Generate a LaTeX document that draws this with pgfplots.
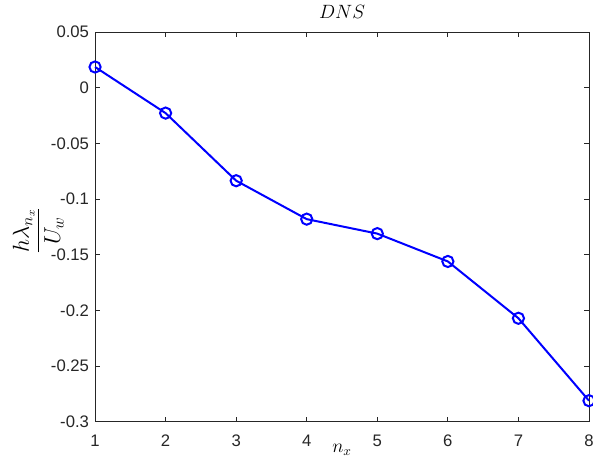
\documentclass[border=0pt]{standalone}
\usepackage{pgfplots}
\pgfplotsset{compat=1.18}
\usepackage{fontspec}
\setmainfont{Liberation Sans}
\begin{document}
\begin{tikzpicture}
\begin{axis}[
  scale only axis,
  width=370pt, height=292pt,
  xmin=1, xmax=8, ymin=-0.3, ymax=0.05,
  xtick={1,2,3,4,5,6,7,8},
  ytick={-0.3,-0.25,-0.2,-0.15,-0.1,-0.05,0,0.05},
  yticklabels={-0.3,-0.25,-0.2,-0.15,-0.1,-0.05,0,0.05},
  tick align=inside,
  tick pos=both,
  major tick length=3.8pt,
  axis line style={black!85, line width=0.6pt},
  tick style={black!85, line width=0.6pt},
  ticklabel style={font=\fontsize{12.5}{14}\selectfont, text=black!85},
  xticklabel style={yshift=-6pt},
  yticklabel style={xshift=-1pt},
  /pgf/number format/assume math mode=true,
  xlabel={$n_x$},
  xlabel style={font=\fontsize{14}{16}\selectfont, at={(axis description cs:0.5,-0.071)}, anchor=center},
  ylabel={$\displaystyle\frac{h\lambda_{n_x}}{U_w}$},
  ylabel style={font=\fontsize{17}{20}\selectfont, at={(axis description cs:-0.115,0.49)}, anchor=center},
  title={$DNS$},
  title style={font=\fontsize{15}{17}\selectfont, at={(axis description cs:0.5,1.032)}, anchor=center},
  clip=false,
]
\addplot[blue, line width=1.5pt, mark=o, mark size=4.2pt, mark options={line width=1.5pt}]
coordinates {
(1,0.0186) (2,-0.0228) (3,-0.0835) (4,-0.118) (5,-0.131) (6,-0.156) (7,-0.207) (8,-0.281)
};
\end{axis}
\pgfresetboundingbox
\useasboundingbox ([xshift=-71.2pt,yshift=-27pt]current axis.south west) rectangle ([xshift=3pt,yshift=24pt]current axis.north east);
\end{tikzpicture}
\end{document}
